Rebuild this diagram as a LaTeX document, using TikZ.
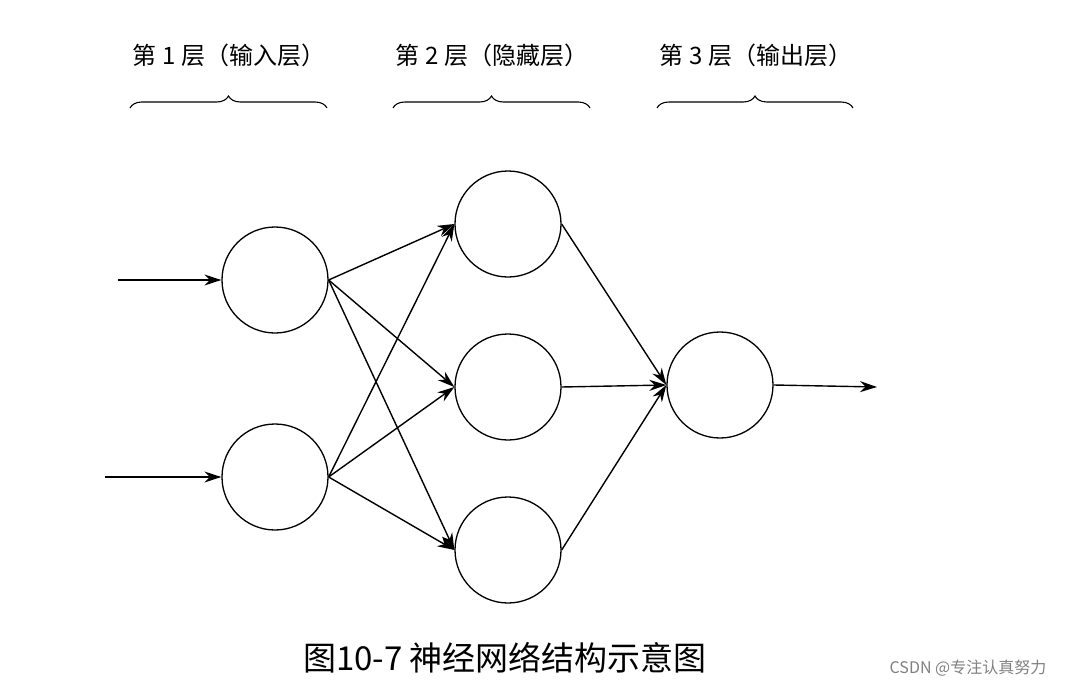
\documentclass[tikz,border=0pt]{standalone}
\usepackage{fontspec}
\newfontfamily\cjk{Noto Sans CJK SC}
\usetikzlibrary{arrows.meta,decorations.pathreplacing}
\begin{document}
\begin{tikzpicture}[x=1pt,y=-1pt,
  neuron/.style={circle,draw,line width=1.3pt,minimum size=106pt,inner sep=0pt},
  conn/.style={line width=1.4pt,-{Stealth[length=17pt,width=11pt]}},
  br/.style={line width=1.1pt,decorate,decoration={brace,amplitude=12pt}},
  lab/.style={font=\cjk\fontsize{24}{28}\selectfont}]
\useasboundingbox (0,0) rectangle (1080,688);
\node[neuron] (i1) at (275,280) {};
\node[neuron] (i2) at (275,477) {};
\node[neuron] (h1) at (508,224) {};
\node[neuron] (h2) at (508,387) {};
\node[neuron] (h3) at (508,550) {};
\node[neuron] (o) at (720,385) {};
\coordinate (s1) at (118,280);
\coordinate (s2) at (105,477);
\coordinate (e) at (877,387);
\draw[conn] (s1) -- (i1.west);
\draw[conn] (s2) -- (i2.west);
\foreach \a in {i1,i2}{\foreach \b in {h1,h2,h3}{\draw[conn] (\a.east) -- (\b.west);}}
\foreach \b in {h1,h2,h3}{\draw[conn] (\b.east) -- (o.west);}
\draw[conn] (o.east) -- (e);
\coordinate (b1a) at (130,108); \coordinate (b1b) at (327,108);
\coordinate (b2a) at (393,108); \coordinate (b2b) at (590,108);
\coordinate (b3a) at (657,108); \coordinate (b3b) at (853,108);
\draw[br] (b1a) -- (b1b);
\draw[br] (b2a) -- (b2b);
\draw[br] (b3a) -- (b3b);
\node[lab] (l1) at (229,55) {第 1 层（输入层）};
\node[lab] (l2) at (492,55) {第 2 层（隐藏层）};
\node[lab] (l3) at (756,55) {第 3 层（输出层）};
\node[font=\cjk\fontsize{33}{38}\selectfont] (cap) at (505,658) {图10-7 神经网络结构示意图};
\node[font=\cjk\fontsize{16}{19}\selectfont,text=gray] (wm) at (968,668) {CSDN @专注认真努力};
\end{tikzpicture}
\end{document}
